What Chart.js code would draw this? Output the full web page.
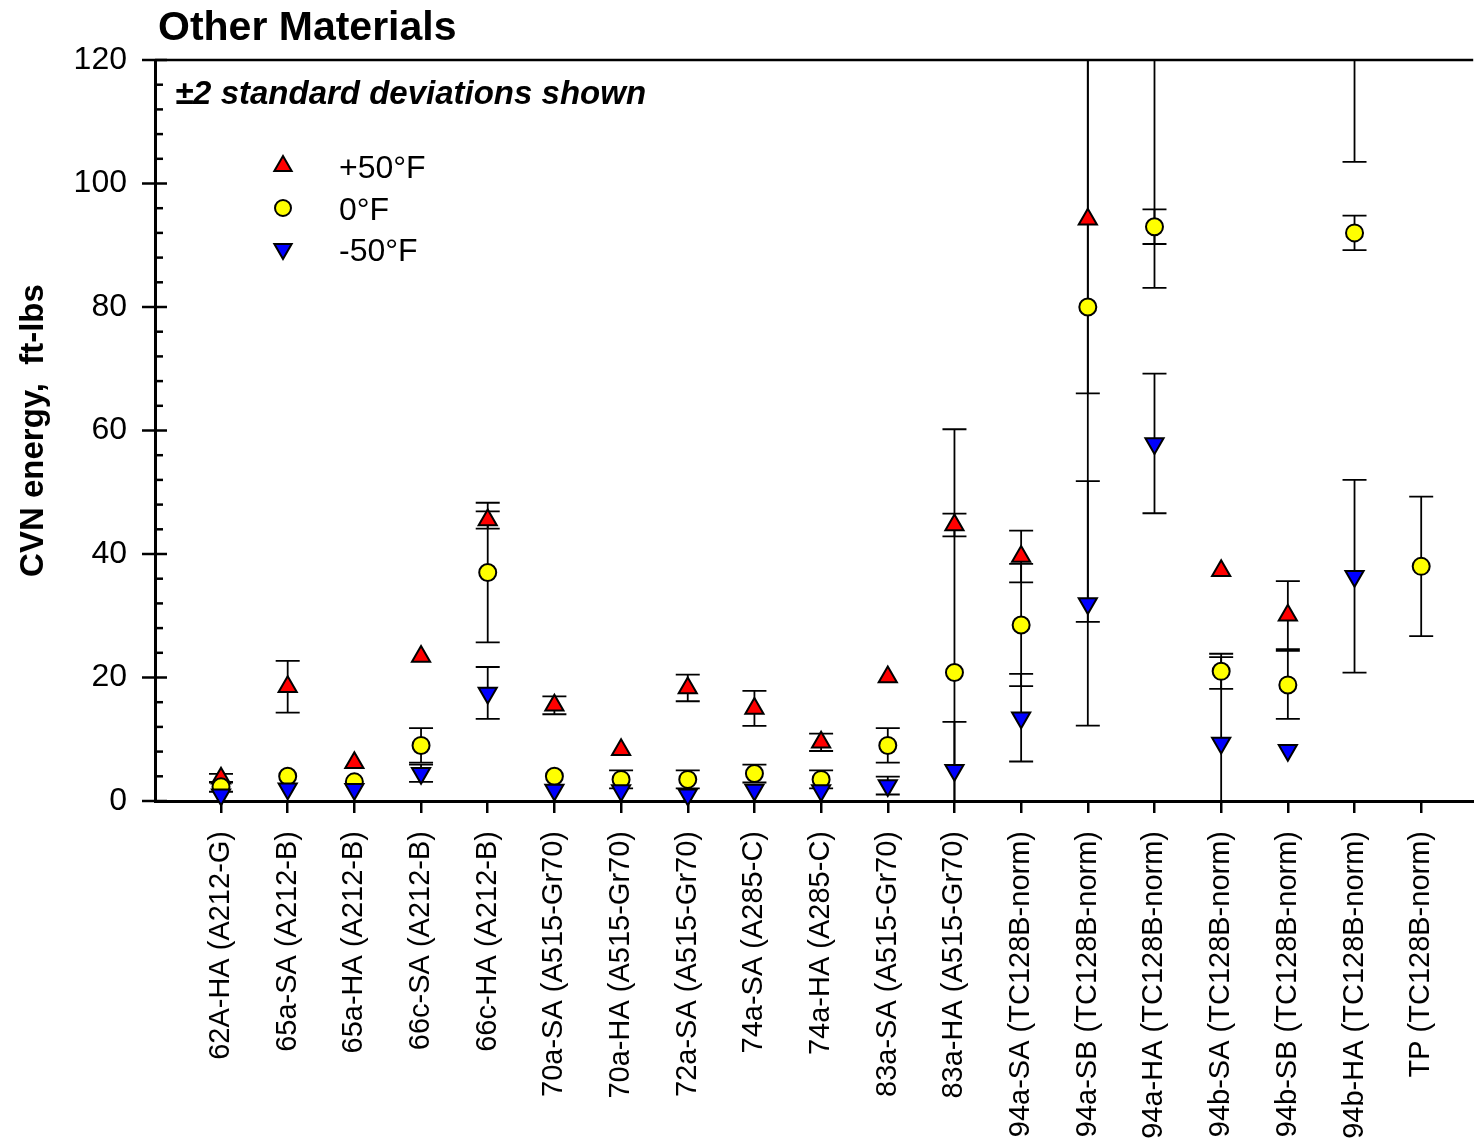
<!DOCTYPE html>
<html>
<head>
<meta charset="utf-8">
<script src="https://cdn.jsdelivr.net/npm/chart.js@4.4.1/dist/chart.umd.min.js"></script>
<style>
  html, body { margin: 0; padding: 0; background: #fff; overflow: hidden; }
  #wrap { width: 1474px; height: 1145px; position: relative; }
</style>
</head>
<body>
<div id="wrap"><canvas id="chart"></canvas></div>
<script>
// --- data ---
const categories = [
    '62A-HA (A212-G)', '65a-SA (A212-B)', '65a-HA (A212-B)', '66c-SA (A212-B)', '66c-HA (A212-B)',
    '70a-SA (A515-Gr70)', '70a-HA (A515-Gr70)', '72a-SA (A515-Gr70)', '74a-SA (A285-C)', '74a-HA (A285-C)',
    '83a-SA (A515-Gr70)', '83a-HA (A515-Gr70)', '94a-SA (TC128B-norm)', '94a-SB (TC128B-norm)', '94a-HA (TC128B-norm)',
    '94b-SA (TC128B-norm)', '94b-SB (TC128B-norm)', '94b-HA (TC128B-norm)', 'TP (TC128B-norm)'
];
const seriesNames = ['+50°F', '0°F', '-50°F'];

// +50°F (two values sit above the 120 limit, only their lower bars show)
const warmVals = [3.7, 18.5, 6.2, 23.4, 45.5, 15.5, 8.3, 18.3, 15.0, 9.5, 20.1, 44.7, 39.6, 94.2, 130, 37.3, 30.1, 130, null];
const warmErr  = [0.7, 4.2, null, null, 1.4, 1.45, null, 2.15, 2.85, 1.4, null, 1.85, 4.2, 28.2, 46.9, null, 5.5, 26.5, null];
// 0°F
const zeroVals = [2.3, 4.0, 3.1, 9.0, 37.0, 4.0, 3.5, 3.5, 4.45, 3.5, 9.0, 20.8, 28.5, 80.0, 93.0, 21.0, 18.8, 92.0, 38.0];
const zeroErr  = [0.8, null, null, 2.8, 11.3, null, 1.45, 1.45, 1.45, 1.45, 2.8, 39.4, 9.9, 51.0, 2.8, 2.85, 5.5, 2.8, 11.3];
// -50°F
const coldVals = [1.0, 2.0, 1.9, 4.5, 17.5, 1.8, 1.7, 1.0, 1.8, 1.7, 2.5, 5.0, 13.5, 32.0, 57.9, 9.4, 8.2, 36.4, null];
const coldErr  = [null, null, null, 1.4, 4.2, null, null, null, null, null, 1.45, 7.8, 7.1, 19.8, 11.3, 13.9, null, 15.6, null];

const yTicks = [0, 20, 40, 60, 80, 100, 120];

const FONT = "'Liberation Sans', Arial, sans-serif";

function toPoints(vals, errs) {
    return vals.map((v, i) => ({ x: i, y: v, err: errs[i] }));
}

const markerStyles = [
    { pointStyle: 'triangle', rotation: 0, radius: 10.5, color: '#ff0000' },
    { pointStyle: 'circle', rotation: 0, radius: 8.5, color: '#ffff00' },
    { pointStyle: 'triangle', rotation: 180, radius: 10.5, color: '#0000ff' }
];

// --- error bars under the markers ---
const errorBars = {
    id: 'errorBars',
    beforeDatasetsDraw(chart) {
        const { ctx, chartArea: a, scales: { x, y } } = chart;
        ctx.save();
        ctx.beginPath();
        ctx.rect(a.left, a.top, a.right - a.left, a.bottom - a.top);
        ctx.clip();
        ctx.strokeStyle = '#000';
        ctx.lineWidth = 1.8;
        chart.data.datasets.forEach(ds => {
            ds.data.forEach(p => {
                if (p.y == null || p.err == null) return;
                const px = x.getPixelForValue(p.x);
                const hi = y.getPixelForValue(p.y + p.err);
                const lo = y.getPixelForValue(p.y - p.err);
                ctx.beginPath();
                ctx.moveTo(px, hi); ctx.lineTo(px, lo);
                ctx.moveTo(px - 12, hi); ctx.lineTo(px + 12, hi);
                ctx.moveTo(px - 12, lo); ctx.lineTo(px + 12, lo);
                ctx.stroke();
            });
        });
        ctx.restore();
    }
};

// --- frame, inner y ticks, titles and legend ---
const decorations = {
    id: 'decorations',
    afterDraw(chart) {
        const { ctx, chartArea: a, scales: { y } } = chart;
        ctx.save();
        ctx.strokeStyle = '#000';
        // top frame line
        ctx.lineWidth = 2.5;
        ctx.beginPath();
        ctx.moveTo(a.left, a.top); ctx.lineTo(a.right, a.top);
        ctx.stroke();
        // y ticks: major every 20 crossing the axis, minor every 4 inside
        ctx.lineWidth = 2.5;
        for (let v = 0; v <= 120; v += 4) {
            const py = y.getPixelForValue(v);
            const major = v % 20 === 0;
            ctx.beginPath();
            ctx.moveTo(major ? a.left - 13 : a.left, py);
            ctx.lineTo(major ? a.left + 12 : a.left + 8, py);
            ctx.stroke();
        }
        // title
        ctx.fillStyle = '#000';
        ctx.textAlign = 'left';
        ctx.textBaseline = 'alphabetic';
        ctx.font = `bold 41px ${FONT}`;
        ctx.fillText('Other Materials', 158, 40);
        ctx.font = `italic bold 33px ${FONT}`;
        ctx.fillText('±2 standard deviations shown', 175, 104);
        // legend
        const rows = [166, 208, 249];
        markerStyles.forEach((m, i) => {
            ctx.fillStyle = m.color;
            ctx.strokeStyle = '#000';
            ctx.lineWidth = 2;
            Chart.helpers.drawPoint(ctx, { pointStyle: m.pointStyle, rotation: m.rotation, radius: m.radius - 0.5, borderWidth: 2 }, 283, rows[i]);
            ctx.fillStyle = '#000';
            ctx.font = `32px ${FONT}`;
            ctx.textBaseline = 'middle';
            ctx.fillText(seriesNames[i], 339, rows[i] + 3);
        });
        ctx.restore();
    }
};

const valueSets = [[warmVals, warmErr], [zeroVals, zeroErr], [coldVals, coldErr]];
const datasets = valueSets.map(([vals, errs], i) => ({
    label: seriesNames[i],
    data: toPoints(vals, errs),
    pointStyle: markerStyles[i].pointStyle,
    rotation: markerStyles[i].rotation,
    pointRadius: markerStyles[i].radius,
    pointHoverRadius: markerStyles[i].radius,
    backgroundColor: markerStyles[i].color,
    borderColor: '#000',
    pointBorderWidth: 2,
    showLine: false,
    order: 3 - i,
    clip: { left: false, top: 0, right: false, bottom: false }
}));

new Chart(document.getElementById('chart'), {
    type: 'scatter',
    data: { datasets },
    options: {
        responsive: true,
        maintainAspectRatio: false,
        animation: false,
        layout: { autoPadding: false, padding: { top: 60, right: 0, left: 0, bottom: 0 } },
        plugins: { legend: { display: false }, tooltip: { enabled: false } },
        scales: {
            x: {
                type: 'linear',
                min: -0.99,
                max: 18.78,
                afterBuildTicks: s => { s.ticks = categories.map((c, i) => ({ value: i })); },
                afterFit: s => { s.height = 344; },
                grid: { display: true, drawOnChartArea: false, drawTicks: true, tickLength: 12, color: '#000', lineWidth: 2.5 },
                border: { display: true, color: '#000', width: 3 },
                ticks: {
                    autoSkip: false,
                    minRotation: 90,
                    maxRotation: 90,
                    padding: 18,
                    color: '#000',
                    font: { family: FONT, size: 29 },
                    callback: v => categories[v]
                }
            },
            y: {
                min: 0,
                max: 120,
                afterBuildTicks: s => { s.ticks = yTicks.map(v => ({ value: v })); },
                afterFit: s => { s.width = 155; },
                grid: { display: false, drawTicks: false },
                border: { display: true, color: '#000', width: 3 },
                ticks: { padding: 28, color: '#000', font: { family: FONT, size: 32 } },
                title: {
                    display: true,
                    text: 'CVN energy,  ft-lbs',
                    color: '#000',
                    font: { family: FONT, size: 33, weight: 'bold' },
                    padding: { top: 14, bottom: 0 }
                }
            }
        }
    },
    plugins: [errorBars, decorations]
});
</script>
</body>
</html>
